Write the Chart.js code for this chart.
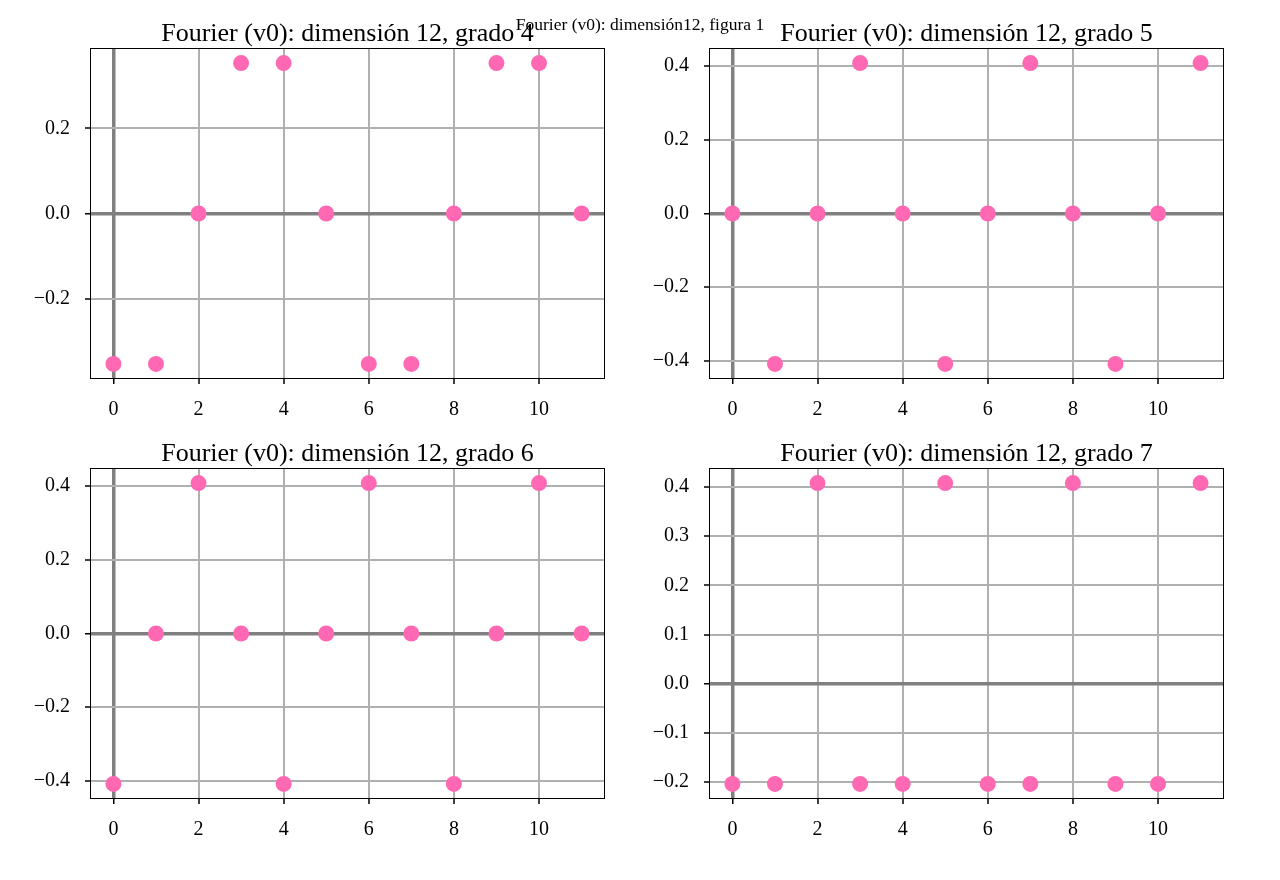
<!DOCTYPE html>
<html>
<head>
<meta charset="utf-8">
<script src="https://cdn.jsdelivr.net/npm/chart.js@4"></script>
<style>
body { margin: 0; background: #fff; width: 1280px; height: 880px; position: relative; overflow: hidden; }
canvas { position: absolute; }
#suptitle { position: absolute; top: 16px; left: 0; width: 1280px; text-align: center;
  font: 17.5px "Liberation Serif", serif; line-height: 17px; color: #000; z-index: 5; }
</style>
</head>
<body>
<div id="suptitle">Fourier (v0): dimensión12, figura 1</div>
<canvas id="c1" width="640" height="430" style="left:0;top:0"></canvas>
<canvas id="c2" width="640" height="430" style="left:619px;top:0"></canvas>
<canvas id="c3" width="640" height="430" style="left:0;top:420px"></canvas>
<canvas id="c4" width="640" height="430" style="left:619px;top:420px"></canvas>
<script>
// indices 0..11
const xValues = [0, 1, 2, 3, 4, 5, 6, 7, 8, 9, 10, 11];
const grado4 = [-0.3536, -0.3536, 0, 0.3536, 0.3536, 0, -0.3536, -0.3536, 0, 0.3536, 0.3536, 0];
const grado5 = [0, -0.4082, 0, 0.4082, 0, -0.4082, 0, 0.4082, 0, -0.4082, 0, 0.4082];
const grado6 = [-0.4082, 0, 0.4082, 0, -0.4082, 0, 0.4082, 0, -0.4082, 0, 0.4082, 0];
const grado7 = [-0.2041, -0.2041, 0.4082, -0.2041, -0.2041, 0.4082, -0.2041, -0.2041, 0.4082, -0.2041, -0.2041, 0.4082];

const xTicks = [0, 2, 4, 6, 8, 10];
const yTicksA = [-0.2, 0, 0.2];
const yTicksB = [-0.4, -0.2, 0, 0.2, 0.4];
const yTicksC = [-0.2, -0.1, 0, 0.1, 0.2, 0.3, 0.4];

const serif = "'Liberation Serif', 'DejaVu Serif', serif";

const frame = {
    id: "frame",
    afterDraw(chart) {
        const a = chart.chartArea;
        const ctx = chart.ctx;
        ctx.save();
        ctx.strokeStyle = "#000";
        ctx.lineWidth = 1;
        ctx.strokeRect(a.left + 0.5, a.top + 0.5, a.right - a.left - 1, a.bottom - a.top - 1);
        ctx.restore();
    }
};

function gridColor(c) {
    return c.tick && c.tick.value === 0 ? "#808080" : "#b0b0b0";
}
function gridWidth(c) {
    return c.tick && c.tick.value === 0 ? 3.5 : 2;
}

function makeChart(id, values, yMin, yMax, yTicks, title) {
    return new Chart(document.getElementById(id), {
        type: "scatter",
        data: {
            datasets: [{
                data: xValues.map((x, i) => ({ x: x, y: values[i] })),
                backgroundColor: "#ff69b4",
                borderWidth: 0,
                pointRadius: 8,
                pointHoverRadius: 8
            }]
        },
        options: {
            responsive: false,
            animation: false,
            events: [],
            layout: { padding: { left: 0, right: 35, top: 0, bottom: 0 } },
            plugins: {
                legend: { display: false },
                tooltip: { enabled: false },
                title: {
                    display: true,
                    text: title,
                    fullSize: false,
                    color: "#000",
                    font: { family: serif, size: 26, weight: "normal", lineHeight: 1 },
                    padding: { top: 21, bottom: 1 }
                }
            },
            scales: {
                x: {
                    type: "linear",
                    min: -0.55,
                    max: 11.55,
                    afterBuildTicks: s => { s.ticks = xTicks.map(v => ({ value: v })); },
                    afterFit: s => { s.height = 51; },
                    border: { display: false },
                    grid: { color: gridColor, lineWidth: gridWidth, tickLength: 5, tickColor: "#000", tickWidth: 1.5 },
                    ticks: {
                        color: "#000",
                        padding: 14,
                        autoSkip: false,
                        maxRotation: 0,
                        font: { family: serif, size: 20 },
                        callback: v => String(v)
                    }
                },
                y: {
                    type: "linear",
                    min: yMin,
                    max: yMax,
                    afterBuildTicks: s => { s.ticks = yTicks.map(v => ({ value: v })); },
                    afterFit: s => { s.width = 90; },
                    border: { display: false },
                    grid: { color: gridColor, lineWidth: gridWidth, tickLength: 5, tickColor: "#000", tickWidth: 1.5 },
                    ticks: {
                        color: "#000",
                        padding: 15,
                        autoSkip: false,
                        font: { family: serif, size: 20 },
                        callback: v => v.toFixed(1).replace("-", "\u2212")
                    }
                }
            }
        },
        plugins: [frame]
    });
}

makeChart("c1", grado4, -0.389, 0.389, yTicksA, "Fourier (v0): dimensión 12, grado 4");
makeChart("c2", grado5, -0.449, 0.449, yTicksB, "Fourier (v0): dimensión 12, grado 5");
makeChart("c3", grado6, -0.449, 0.449, yTicksB, "Fourier (v0): dimensión 12, grado 6");
makeChart("c4", grado7, -0.2347, 0.4388, yTicksC, "Fourier (v0): dimensión 12, grado 7");
</script>
</body>
</html>
